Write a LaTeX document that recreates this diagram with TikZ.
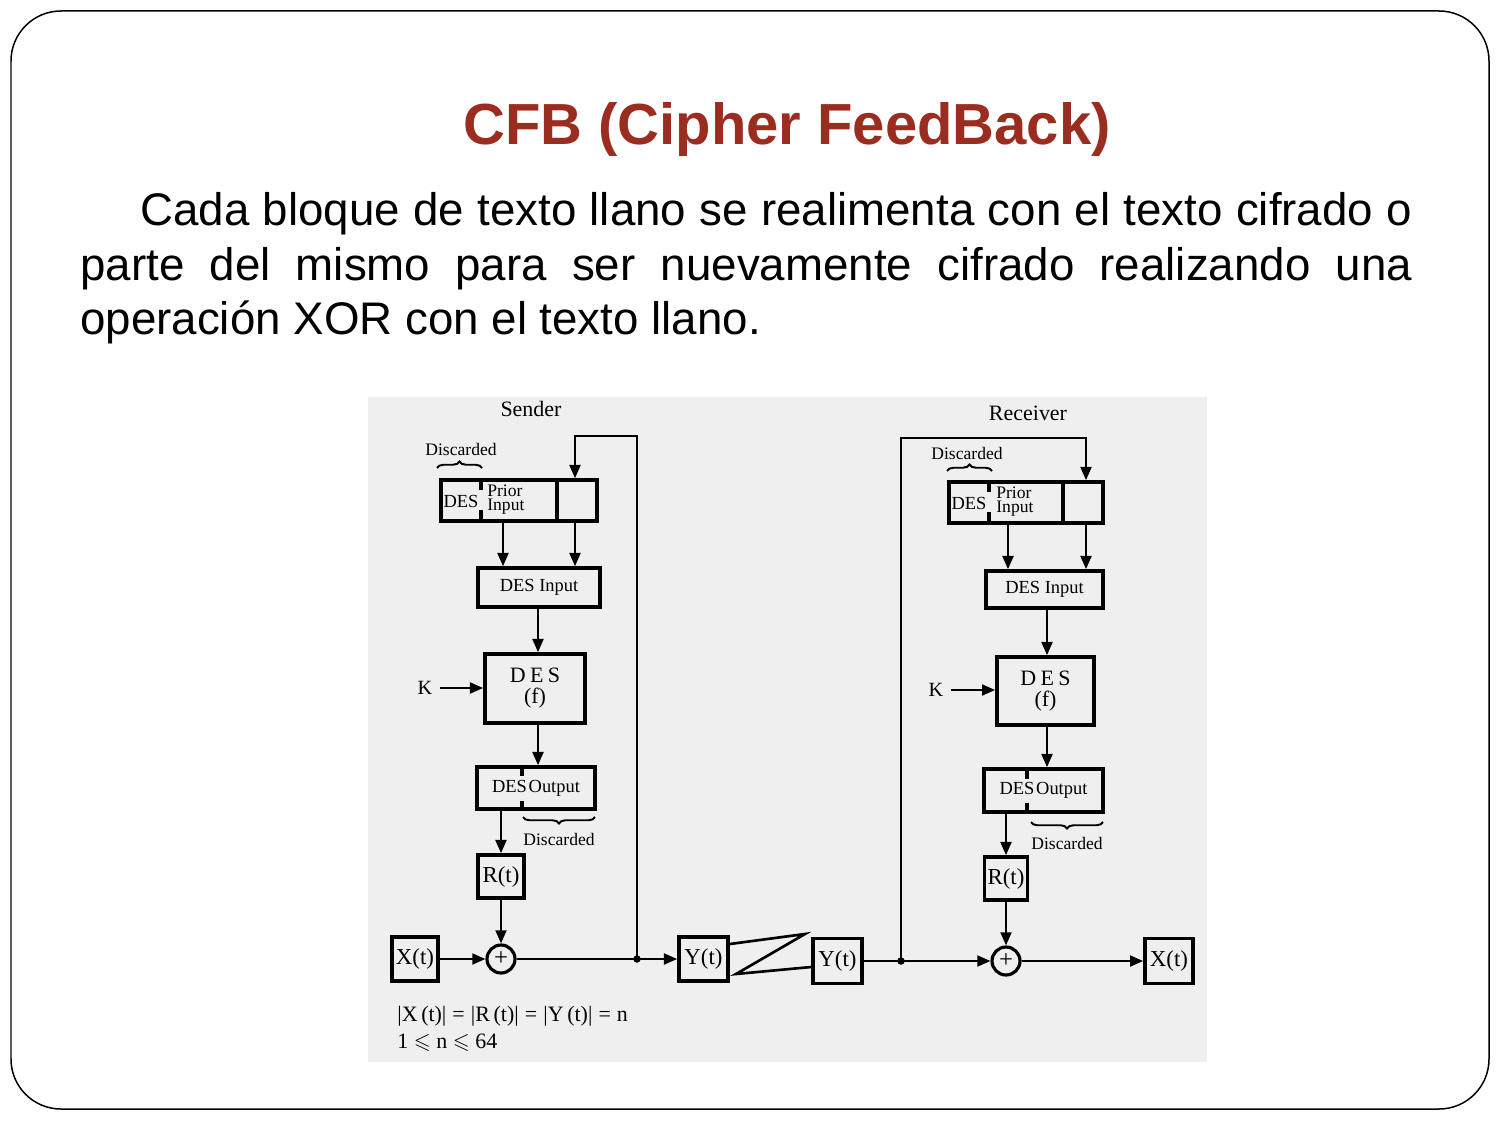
\documentclass[tikz,border=0pt]{standalone}
\usepackage{fontspec}
\usepackage{amssymb}
\setmainfont{Liberation Sans}
\newfontfamily\scanfont{Liberation Serif}
\usetikzlibrary{arrows.meta,decorations.pathreplacing}

\definecolor{titlered}{HTML}{9B2D20}
\definecolor{scanbg}{HTML}{EFEFEF}
\newcommand\fsz[2]{\fontsize{#1}{#2}\selectfont}

\tikzset{
  box/.style={draw, line width=2.1pt, inner sep=0pt, font=\scanfont},
  wire/.style={line width=1.35pt},
  arr/.style={wire, -{Triangle[length=7.5pt,width=6.2pt]}},
  divider/.style={line width=2.1pt},
  lbl/.style={inner sep=0pt, font=\scanfont},
  xorsym/.style={draw, circle, line width=1.8pt, minimum size=0.56cm, inner sep=0pt, font=\scanfont\fsz{14}{14}},
  jdot/.style={circle, fill, minimum size=0.15cm, inner sep=0pt},
  squig/.style={line width=1.1pt, decorate, decoration={brace, amplitude=0.13cm}},
  bodytext/.style={inner sep=0pt, anchor=base west, font=\fsz{26}{31}},
}

\begin{document}
\begin{tikzpicture}[x=0.02cm, y=-0.02cm, line join=miter]
\useasboundingbox (0,0) rectangle (1500,1125);
\fill[white] (0,0) rectangle (1500,1125);

% slide frame
\draw[line width=0.85pt, rounded corners=1cm] (11,11) rectangle (1489,1109);

% heading and paragraph
\node[anchor=base, inner sep=0pt, font=\bfseries\fsz{33}{40}, text=titlered] (title) at (787,145) {CFB (Cipher FeedBack)};
\node[bodytext] (line1) at (140,225) {\makebox[25.44cm][s]{Cada bloque de texto llano se realimenta con el texto cifrado o}};
\node[bodytext] (line2) at (80,280) {\makebox[26.64cm][s]{parte del mismo para ser nuevamente cifrado realizando una}};
\node[bodytext] (line3) at (80,334.5) {operación XOR con el texto llano.};

% scanned figure background
\fill[scanbg] (368,397) rectangle (1207,1062);

% ---------------- Sender ----------------
\node[lbl, font=\scanfont\fsz{12.5}{14}] (ssender) at (531,409) {Sender};
\node[lbl, font=\scanfont\fsz{10}{12}] (sdisc1) at (461,449) {Discarded};
\coordinate (sbrA) at (437,468);
\coordinate (sbrB) at (482,468);
\draw[squig] (sbrA) -- (sbrB);

\node[box, minimum width=3.12cm, minimum height=0.82cm] (sprior) at (519,500.5) {};
\node[lbl, font=\scanfont\fsz{10.5}{12}] (spdes) at (461,501) {DES};
\node[lbl, anchor=west, align=left, font=\scanfont\fsz{10}{8.4}] (sptxt) at (487,499.5) {Prior\\Input};
\coordinate (sdv1) at (481,0);
\coordinate (sdv2) at (557,0);
\draw[divider] (sprior.north -| sdv1) -- ++(0,12);
\draw[divider] (sprior.south -| sdv1) -- ++(0,-13);
\draw[divider] (sprior.north -| sdv2) -- (sprior.south -| sdv2);

\node[box, minimum width=2.44cm, minimum height=0.78cm, font=\scanfont\fsz{10.5}{12}] (sdesin) at (539,587.5) {DES Input};
\node[box, minimum width=2.0cm, minimum height=1.38cm, align=center, font=\scanfont\fsz{12.5}{12}] (sdes) at (535,688.5) {D\kern2.5pt E\kern2.5pt S\\(f)};
\node[box, minimum width=2.36cm, minimum height=0.84cm, font=\scanfont\fsz{10.5}{12}] (sout) at (536,788) {DES\kern1pt Output};
\coordinate (sdv3) at (522,0);
\draw[divider] (sout.north -| sdv3) -- ++(0,11);
\draw[divider] (sout.south -| sdv3) -- ++(0,-10);
\coordinate (sbrC) at (595,817);
\coordinate (sbrD) at (523,817);
\draw[squig] (sbrC) -- (sbrD);
\node[lbl, font=\scanfont\fsz{10}{12}] (sdisc2) at (559,839) {Discarded};

\node[box, minimum width=0.92cm, minimum height=0.86cm, font=\scanfont\fsz{13}{14}] (sR) at (501,876.5) {R(t)};
\node[xorsym] (sxor) at (501,959) {+};
\node[box, minimum width=0.92cm, minimum height=0.88cm, font=\scanfont\fsz{13}{14}] (sX) at (415,959) {X(t)};
\node[box, minimum width=0.98cm, minimum height=0.88cm, font=\scanfont\fsz{13}{14}] (sY) at (703.5,959) {Y(t)};
\node[jdot] (sjn) at (637,959) {};
\node[lbl, inner sep=4pt, font=\scanfont\fsz{11.5}{12}] (sK) at (425,688) {K};

\coordinate (sa) at (503,0);
\coordinate (sc) at (538,0);
\coordinate (stopc) at (575,436);

\draw[arr] (sjn.center) -- (sjn.center |- stopc) -- (stopc) -- (sprior.north -| stopc);
\draw[arr] (sprior.south -| sa) -- (sdesin.north -| sa);
\draw[arr] (sprior.south -| stopc) -- (sdesin.north -| stopc);
\draw[arr] (sdesin.south -| sc) -- (sdes.north -| sc);
\draw[arr] (sK.east) -- (sK.east -| sdes.west);
\draw[arr] (sdes.south -| sc) -- (sout.north -| sc);
\draw[arr] (sout.south -| sR) -- (sR.north);
\draw[arr] (sR.south) -- (sxor.north);
\draw[arr] (sX.east) -- (sxor.west);
\draw[arr] (sxor.east) -- (sY.west);

% transmission link
\coordinate (z1) at (732,944);
\coordinate (z2) at (805,934);
\coordinate (z3) at (736,974);
\coordinate (z4) at (813,967);

% ---------------- Receiver ----------------
\node[lbl, font=\scanfont\fsz{12.5}{14}] (rrecv) at (1028,413) {Receiver};
\node[lbl, font=\scanfont\fsz{10}{12}] (rdisc1) at (967,453) {Discarded};
\coordinate (rbrA) at (947,471);
\coordinate (rbrB) at (992,471);
\draw[squig] (rbrA) -- (rbrB);

\node[box, minimum width=3.08cm, minimum height=0.82cm] (rprior) at (1026,502.5) {};
\node[lbl, font=\scanfont\fsz{10.5}{12}] (rpdes) at (969,503) {DES};
\node[lbl, anchor=west, align=left, font=\scanfont\fsz{10}{8.4}] (rptxt) at (996,501.5) {Prior\\Input};
\coordinate (rdv1) at (989,0);
\coordinate (rdv2) at (1063,0);
\draw[divider] (rprior.north -| rdv1) -- ++(0,12);
\draw[divider] (rprior.south -| rdv1) -- ++(0,-13);
\draw[divider] (rprior.north -| rdv2) -- (rprior.south -| rdv2);

\node[box, minimum width=2.34cm, minimum height=0.74cm, font=\scanfont\fsz{10.5}{12}] (rdesin) at (1044.5,589.5) {DES Input};
\node[box, minimum width=1.94cm, minimum height=1.36cm, align=center, font=\scanfont\fsz{12.5}{12}] (rdes) at (1045.5,691) {D\kern2.5pt E\kern2.5pt S\\(f)};
\node[box, minimum width=2.38cm, minimum height=0.86cm, font=\scanfont\fsz{10.5}{12}] (rout) at (1043.5,790.5) {DES\kern1pt Output};
\coordinate (rdv3) at (1027,0);
\draw[divider] (rout.north -| rdv3) -- ++(0,12);
\draw[divider] (rout.south -| rdv3) -- ++(0,-11);
\coordinate (rbrC) at (1103,822);
\coordinate (rbrD) at (1031,822);
\draw[squig] (rbrC) -- (rbrD);
\node[lbl, font=\scanfont\fsz{10}{12}] (rdisc2) at (1067,843) {Discarded};

\node[box, minimum width=0.86cm, minimum height=0.86cm, font=\scanfont\fsz{13}{14}] (rR) at (1006,878.5) {R(t)};
\node[xorsym] (rxor) at (1006,961) {+};
\node[box, minimum width=0.98cm, minimum height=0.9cm, font=\scanfont\fsz{13}{14}] (rY) at (837.5,961) {Y(t)};
\node[box, minimum width=0.96cm, minimum height=0.9cm, font=\scanfont\fsz{13}{14}] (rX) at (1169,961) {X(t)};
\node[jdot] (rjn) at (901,961) {};
\node[lbl, inner sep=4pt, font=\scanfont\fsz{11.5}{12}] (rK) at (936,690) {K};

\coordinate (ra) at (1008,0);
\coordinate (rc) at (1047,0);
\coordinate (rtopc) at (1086,438);

\draw[arr] (rjn.center) -- (rjn.center |- rtopc) -- (rtopc) -- (rprior.north -| rtopc);
\draw[arr] (rprior.south -| ra) -- (rdesin.north -| ra);
\draw[arr] (rprior.south -| rtopc) -- (rdesin.north -| rtopc);
\draw[arr] (rdesin.south -| rc) -- (rdes.north -| rc);
\draw[arr] (rK.east) -- (rK.east -| rdes.west);
\draw[arr] (rdes.south -| rc) -- (rout.north -| rc);
\draw[arr] (rout.south -| rR) -- (rR.north);
\draw[arr] (rR.south) -- (rxor.north);
\draw[arr] (rY.east) -- (rxor.west);
\draw[arr] (rxor.east) -- (rX.west);

\draw[line width=1.5pt] (sY.east |- z1) -- (z2) -- (z3) -- (rY.west |- z4);

% block length notes
\node[lbl, anchor=base west, font=\scanfont\fsz{12.5}{14}] (note1) at (397,1021) {|X\,(t)|\;=\;|R\,(t)|\;=\;|Y\,(t)|\;=\;n};
\node[lbl, anchor=base west, font=\scanfont\fsz{12.5}{14}] (note2) at (397,1048) {1 $\leqslant$ n $\leqslant$ 64};
\end{tikzpicture}
\end{document}
